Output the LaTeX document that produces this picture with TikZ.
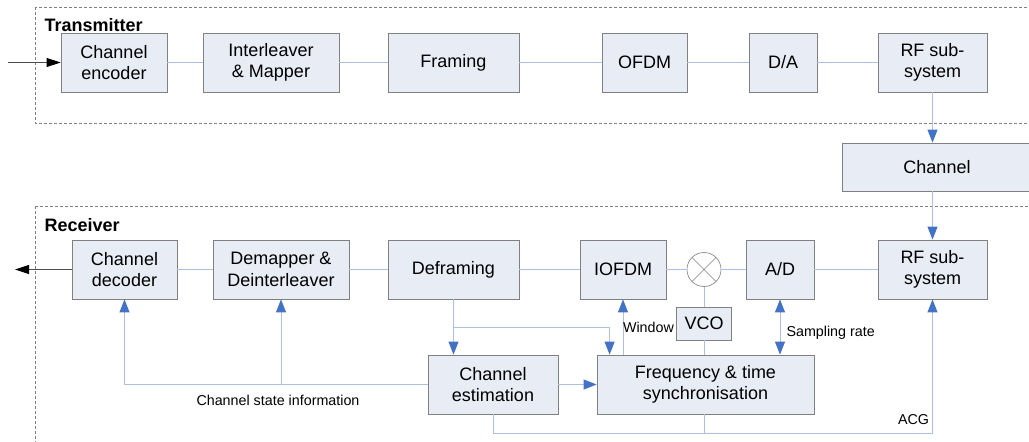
\documentclass[tikz,border=0pt]{standalone}
\usepackage{fontspec}
\setmainfont{Liberation Sans}
\usetikzlibrary{arrows.meta, calc}

\definecolor{boxfill}{RGB}{232,236,245}
\definecolor{boxline}{RGB}{128,128,128}
\definecolor{linkblue}{RGB}{170,193,224}
\definecolor{tipblue}{RGB}{68,114,196}

\begin{document}
\begin{tikzpicture}[
  x=1pt, y=-1pt,
  font=\fontsize{18}{21.5}\selectfont,
  block/.style={draw=boxline, fill=boxfill, line width=0.8pt, inner sep=0, minimum height=59pt},
  mixer/.style={draw=boxline, circle, line width=0.6pt, inner sep=0, minimum size=34pt,
    path picture={\draw[boxline, line width=0.6pt]
      (path picture bounding box.north west) -- (path picture bounding box.south east)
      (path picture bounding box.north east) -- (path picture bounding box.south west);}},
  group/.style={draw=boxline, dashed, dash pattern=on 3pt off 2pt, line width=0.6pt},
  title/.style={anchor=west, font=\fontsize{18}{21.5}\selectfont\bfseries},
  small/.style={font=\fontsize{14.3}{17}\selectfont},
  link/.style={draw=linkblue, line width=1pt},
  to/.style={link, -{Triangle[length=13pt, width=10pt, color=tipblue]}},
  both/.style={link, {Triangle[length=13pt, width=10pt, color=tipblue]}-{Triangle[length=13pt, width=10pt, color=tipblue]}},
  io/.style={draw=black!70, line width=0.8pt, -{Triangle[length=14pt, width=9pt, color=black]}},
  every node/.style={align=center}]

  \clip (0,0) rectangle (1029,442);

  % Dashed frames for the two ends of the link
  \draw[group] (35,7) rectangle (1040,123);
  \draw[group] (35,206) rectangle (1040,460);
  \node[title] (txlabel) at (41,25) {Transmitter};
  \node[title] (rxlabel) at (41,225) {Receiver};

  % Transmitter chain
  \node[block, minimum width=106pt] (enc) at (114,62.5) {Channel\\encoder};
  \node[block, minimum width=136pt] (ilv) at (271,62.5) {Interleaver\\\& Mapper};
  \node[block, minimum width=131pt] (frm) at (453.5,62.5) {Framing};
  \node[block, minimum width=85pt] (ofdm) at (644.5,62.5) {OFDM};
  \node[block, minimum width=68pt] (da) at (783,62.5) {D/A};
  \node[block, minimum width=109pt] (rftx) at (932.5,62.5) {RF sub-\\system};

  % Channel
  \node[block, minimum width=190pt, minimum height=48pt] (chan) at (937,167) {Channel};

  % Receiver chain
  \node[block, minimum width=105pt] (dec) at (124.5,269.5) {Channel\\decoder};
  \node[block, minimum width=136pt] (dmp) at (281,269.5) {Demapper \&\\Deinterleaver};
  \node[block, minimum width=131pt] (dfr) at (453.5,269.5) {Deframing};
  \node[block, minimum width=86pt] (iofdm) at (623,269.5) {IOFDM};
  \node[mixer] (mix) at (704,269.5) {};
  \node[block, minimum width=68pt] (ad) at (780,269.5) {A/D};
  \node[block, minimum width=109pt] (rfrx) at (932.5,269.5) {RF sub-\\system};

  % Estimation and synchronisation
  \node[block, minimum width=130pt] (est) at (493,384.5) {Channel\\estimation};
  \node[block, minimum width=217pt] (sync) at (705.5,384.5) {Frequency \& time\\synchronisation};
  \node[block, minimum width=55pt, minimum height=33pt] (vco) at (704,323.5) {VCO};

  \coordinate (in) at (8,62.5);
  \coordinate (out) at (15,269.5);

  % Forward path
  \draw[io] (in) -- (enc.west);
  \draw[link] (enc) -- (ilv) (ilv) -- (frm) (frm) -- (ofdm) (ofdm) -- (da) (da) -- (rftx);
  \draw[to] (rftx.south) -- (rftx.south |- chan.north);
  \draw[to] (rftx.south |- chan.south) -- (rfrx.north);
  \draw[link] (rfrx) -- (ad) (ad) -- (mix) (mix) -- (iofdm) (iofdm) -- (dfr) (dfr) -- (dmp) (dmp) -- (dec);
  \draw[io] (dec.west) -- (out);

  % Channel state information
  \draw[to] (dfr.south) -- (dfr.south |- est.north);
  \draw[to] (dfr.south |- 0,327) -| ([xshift=13pt]sync.north west);
  \draw[to] (est.west) -| (dec.south);
  \draw[to] (est.west -| dmp.south) -- (dmp.south);
  \node[small] (csi) at (278,400) {Channel state information};
  \draw[to] (est.east) -- (sync.west);

  % Synchronisation loops
  \draw[to] (iofdm.south |- sync.north) -- (iofdm.south);
  \node[small] (win) at (648.5,327) {Window};
  \draw[link] (mix.south) -- (vco.north);
  \draw[link] (vco.south) -- (vco.south |- sync.north);
  \draw[both] (ad.south) -- (ad.south |- sync.north);
  \node[small, anchor=west] (rate) at (783,333) {Sampling rate};

  % Gain control back to the RF front end
  \draw[to] (est.south) -- ++(0,19) coordinate (acg) -| (rfrx.south);
  \draw[link] (vco.south |- sync.south) -- (vco.south |- acg);
  \node[small] (acglabel) at (913.5,420) {ACG};

\end{tikzpicture}
\end{document}
